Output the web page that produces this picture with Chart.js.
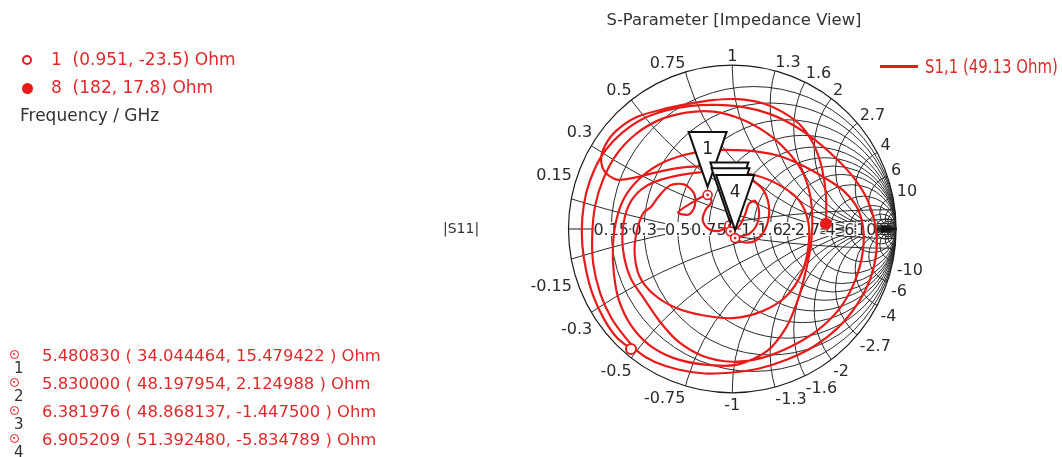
<!DOCTYPE html>
<html>
<head>
<meta charset="utf-8">
<title>S-Parameter [Impedance View]</title>
<script src="https://cdn.jsdelivr.net/npm/chart.js@4.4.1/dist/chart.umd.min.js"></script>
<style>
  html, body { margin: 0; padding: 0; background: #fff; }
  body { width: 1062px; height: 457px; position: relative; overflow: hidden;
         font-family: "DejaVu Sans", Verdana, sans-serif; }
  #wrap { position: absolute; left: 0; top: 0; width: 1062px; height: 457px; }
  .t { position: absolute; white-space: pre; font-size: 16px; line-height: 18px; }
  .red { color: #e0292b; }
  .dark { color: #333; }
  .ring { position: absolute; box-sizing: border-box; border-radius: 50%; }
</style>
</head>
<body>
<div id="wrap"><canvas id="smith"></canvas></div>
<div id="overlay"></div>
<script>
// ---- data ----
const z0 = 50;
const rTicks = [0.15, 0.3, 0.5, 0.75, 1, 1.3, 1.6, 2, 2.7, 4, 6, 10];
const xTicks = [0.15, 0.3, 0.5, 0.75, 1, 1.3, 1.6, 2, 2.7, 4, 6, 10];
const extraGrid = [15, 20, 30];

// S1,1 trace as reflection coefficient (real / imag), 1 GHz -> 8 GHz
const traceRe = [
  -0.618,-0.705,-0.783,-0.849,-0.892,-0.916,-0.916,-0.892,-0.843,-0.771,
  -0.675,-0.554,-0.410,-0.253,-0.102,0.060,0.223,0.373,0.512,0.633,
  0.741,0.825,0.873,0.880,0.843,0.765,0.651,0.500,0.331,0.163,
  0,-0.169,-0.331,-0.476,-0.572,
  -0.657,-0.741,-0.807,-0.849,-0.855,-0.837,-0.789,-0.711,-0.596,-0.452,
  -0.283,-0.114,0.060,0.211,0.331,0.422,0.470,0.488,0.482,0.452,
  0.404,0.331,0.211,0.030,-0.169,-0.361,-0.512,-0.620,
  -0.693,-0.723,-0.729,-0.711,-0.663,-0.572,-0.452,-0.301,-0.133,0.072,
  0.271,0.434,0.572,0.681,0.765,0.801,0.789,0.735,0.651,0.524,
  0.361,0.181,0,-0.181,-0.331,-0.440,
  -0.542,-0.620,-0.663,-0.669,-0.633,-0.554,-0.434,-0.229,-0.030,0.151,
  0.301,0.410,0.464,0.464,0.422,0.331,0.181,0,-0.181,-0.349,
  -0.482,-0.566,-0.596,-0.584,-0.542,
  -0.500,-0.452,-0.380,-0.295,-0.235,-0.229,-0.265,-0.331,-0.247,-0.151,
  -0.127,-0.163,-0.181,-0.145,-0.078,-0.018,-0.011,0.042,0.078,0.102,
  0.139,0.163,0.151,0.102,0.017,
  0.078,0.151,0.211,0.223,0.181,0.078,-0.078,-0.271,-0.452,-0.596,
  -0.705,-0.777,-0.801,-0.777,-0.711,-0.590,-0.434,-0.271,-0.120,0.030,
  0.181,0.313,0.422,0.500,0.548,0.572,0.572
];
const traceIm = [
  -0.747,-0.675,-0.560,-0.416,-0.259,-0.096,0.066,0.223,0.367,0.494,
  0.596,0.681,0.735,0.765,0.771,0.759,0.717,0.645,0.548,0.440,
  0.319,0.181,0.024,-0.139,-0.307,-0.464,-0.608,-0.729,-0.813,-0.867,
  -0.892,-0.898,-0.873,-0.825,-0.765,
  -0.669,-0.548,-0.398,-0.217,-0.036,0.145,0.307,0.458,0.584,0.675,
  0.723,0.729,0.681,0.596,0.488,0.367,0.235,0.084,-0.078,-0.247,
  -0.428,-0.608,-0.759,-0.843,-0.843,-0.801,-0.717,-0.596,
  -0.440,-0.277,-0.114,0.042,0.187,0.307,0.398,0.458,0.488,0.488,
  0.458,0.392,0.313,0.235,0.127,-0.018,-0.187,-0.355,-0.500,-0.627,
  -0.729,-0.801,-0.825,-0.789,-0.699,-0.578,
  -0.428,-0.307,-0.157,-0.006,0.145,0.247,0.307,0.349,0.355,0.331,
  0.265,0.175,0.042,-0.114,-0.277,-0.416,-0.512,-0.554,-0.536,-0.488,
  -0.404,-0.295,-0.157,-0.018,0.102,
  0.133,0.199,0.271,0.277,0.223,0.145,0.090,0.102,0.163,0.212,
  0.169,0.120,0.054,0,-0.012,0.022,-0.015,0.018,0.090,0.157,
  0.175,0.114,0.030,-0.030,-0.057,
  -0.084,-0.066,0.024,0.145,0.253,0.325,0.380,0.386,0.355,0.319,
  0.307,0.355,0.434,0.518,0.608,0.693,0.741,0.777,0.801,0.807,
  0.783,0.723,0.639,0.518,0.373,0.205,0.033
];

// start / end points (GHz, Ohm)
const endFreq = [1, 8];
const endR = [0.951, 182];
const endX = [-23.5, 17.8];

// markers 1..4 (GHz, Ohm)
const markerFreq = [5.480830, 5.830000, 6.381976, 6.905209];
const markerR = [34.044464, 48.197954, 48.868137, 51.392480];
const markerX = [15.479422, 2.124988, -1.447500, -5.834789];

const seriesName = 'S1,1 (49.13 Ohm)';

// ---- helpers ----
function toGamma(r, x) {
  const a = r / z0, b = x / z0;
  const nr = a - 1, ni = b, dr = a + 1, di = b;
  const d = dr * dr + di * di;
  return { x: (nr * dr + ni * di) / d, y: (ni * dr - nr * di) / d };
}

const CX = 735, CY = 229, RPX = 166, W = 1062, H = 457;
const RED = '#e81b1b';
const GRID = '#2b2b2b';

const tracePts = traceRe.map((v, i) => ({ x: v, y: traceIm[i] }));
const markerPts = markerR.map((r, i) => toGamma(r, markerX[i]));
const startPt = [toGamma(endR[0], endX[0])];
const endPt = [toGamma(endR[1], endX[1])];

function fmtTick(v) { return String(v); }

const smithGrid = {
  id: 'smithGrid',
  beforeDatasetsDraw(chart) {
    const { ctx, scales: { x, y } } = chart;
    const px = v => x.getPixelForValue(v);
    const py = v => y.getPixelForValue(v);
    const unit = px(1) - px(0);
    const cx = px(0), cy = py(0);

    ctx.save();
    ctx.beginPath();
    ctx.arc(cx, cy, unit, 0, Math.PI * 2);
    ctx.clip();
    ctx.strokeStyle = GRID;
    ctx.lineWidth = 1;
    rTicks.concat(extraGrid).forEach(r => {
      ctx.beginPath();
      ctx.arc(px(r / (1 + r)), cy, unit / (1 + r), 0, Math.PI * 2);
      ctx.stroke();
    });
    xTicks.concat(extraGrid).forEach(v => {
      [v, -v].forEach(s => {
        ctx.beginPath();
        ctx.arc(px(1), py(1 / s), unit / Math.abs(s), 0, Math.PI * 2);
        ctx.stroke();
      });
    });
    ctx.restore();

    // outer circle + real axis with arrow
    ctx.save();
    ctx.strokeStyle = '#1a1a1a';
    ctx.lineWidth = 1.2;
    ctx.beginPath();
    ctx.arc(cx, cy, unit, 0, Math.PI * 2);
    ctx.stroke();
    ctx.beginPath();
    ctx.moveTo(px(-1), cy);
    ctx.lineTo(px(1), cy);
    ctx.stroke();
    ctx.fillStyle = '#111';
    ctx.beginPath();
    ctx.moveTo(px(1) + 1, cy);
    ctx.lineTo(px(1) - 15, cy - 4);
    ctx.lineTo(px(1) - 15, cy + 4);
    ctx.closePath();
    ctx.fill();

    ctx.font = '16px "DejaVu Sans"';
    ctx.fillStyle = '#2a2a2a';

    // reactance labels around the rim
    const rl = unit + 4;
    xTicks.forEach(v => {
      [v, -v].forEach(s => {
        const th = Math.PI - 2 * Math.atan(Math.abs(s));
        const ang = s > 0 ? th : -th;
        const lx = cx + rl * Math.cos(ang);
        const ly = cy - rl * Math.sin(ang);
        const c = Math.cos(ang);
        ctx.textAlign = c > 0.08 ? 'left' : (c < -0.08 ? 'right' : 'center');
        ctx.textBaseline = 'alphabetic';
        const txt = (s < 0 ? '-' : '') + fmtTick(Math.abs(s));
        ctx.fillText(txt, lx, s > 0 ? ly : ly + 13);
      });
    });

    // resistance labels on the real axis, white boxed
    rTicks.forEach(r => {
      const g = (r - 1) / (r + 1);
      const lx = px(g);
      const txt = fmtTick(r);
      const w = ctx.measureText(txt).width;
      ctx.fillStyle = '#fff';
      ctx.fillRect(lx - w / 2, cy - 7, w, 14);
      ctx.fillStyle = '#2a2a2a';
      ctx.textAlign = 'center';
      ctx.textBaseline = 'alphabetic';
      ctx.fillText(txt, lx, cy + 6);
    });
    ctx.restore();
  },
  afterDatasetsDraw(chart) {
    const { ctx } = chart;
    const meta = chart.getDatasetMeta(0);
    ctx.save();
    ctx.font = '17px "DejaVu Sans"';
    ctx.textAlign = 'center';
    ctx.textBaseline = 'alphabetic';
    meta.data.forEach((pt, i) => {
      const tipX = pt.x, tipY = pt.y - 8;
      const top = tipY - 55;
      ctx.beginPath();
      ctx.moveTo(tipX, tipY);
      ctx.lineTo(tipX - 19, top);
      ctx.lineTo(tipX + 19, top);
      ctx.closePath();
      ctx.fillStyle = '#fff';
      ctx.fill();
      ctx.strokeStyle = '#111';
      ctx.lineWidth = 2;
      ctx.stroke();
      ctx.fillStyle = '#222';
      ctx.fillText(String(i + 1), tipX, top + 22);
    });
    ctx.restore();
  }
};

const canvas = document.getElementById('smith');
new Chart(canvas, {
  type: 'scatter',
  data: {
    datasets: [
      {
        label: 'markers',
        data: markerPts,
        pointRadius: 4.5,
        pointBorderWidth: 1.6,
        pointBackgroundColor: '#fff',
        pointBorderColor: RED,
        showLine: false,
        order: 2
      },
      {
        label: 'marker dots',
        data: markerPts,
        pointRadius: 1.4,
        pointBorderWidth: 0,
        pointBackgroundColor: RED,
        showLine: false,
        order: 1
      },
      {
        label: 'start',
        data: startPt,
        pointRadius: 5,
        pointBorderWidth: 2,
        pointBackgroundColor: '#fff',
        pointBorderColor: RED,
        showLine: false,
        order: 3
      },
      {
        label: 'end',
        data: endPt,
        pointRadius: 6,
        pointBorderWidth: 0,
        pointBackgroundColor: RED,
        showLine: false,
        order: 3
      },
      {
        label: seriesName,
        data: tracePts,
        showLine: true,
        borderColor: RED,
        borderWidth: 2.2,
        tension: 0.3,
        pointRadius: 0,
        fill: false,
        order: 5
      }
    ]
  },
  options: {
    responsive: true,
    maintainAspectRatio: false,
    animation: false,
    layout: { padding: 0 },
    plugins: {
      legend: { display: false },
      title: { display: false },
      tooltip: { enabled: false }
    },
    scales: {
      x: { type: 'linear', min: -CX / RPX, max: (W - CX) / RPX, display: false },
      y: { type: 'linear', min: -(H - CY) / RPX, max: CY / RPX, display: false }
    }
  },
  plugins: [smithGrid]
});

// ---- text around the chart ----
const ov = document.getElementById('overlay');
function addText(txt, left, top, cls, extra) {
  const d = document.createElement('div');
  d.className = 't ' + cls;
  d.textContent = txt;
  d.style.left = left + 'px';
  d.style.top = top + 'px';
  if (extra) Object.assign(d.style, extra);
  ov.appendChild(d);
  return d;
}
function addRing(cxp, cyp, r, border, fill) {
  const d = document.createElement('div');
  d.className = 'ring';
  Object.assign(d.style, {
    left: (cxp - r) + 'px', top: (cyp - r) + 'px', width: 2 * r + 'px', height: 2 * r + 'px',
    border: border, background: fill
  });
  ov.appendChild(d);
}

addText('S-Parameter [Impedance View]', 534, 11, 'dark', { width: '400px', textAlign: 'center', fontSize: '16.4px' });
addText('|S11|', 443, 219, 'dark', { fontSize: '14px' });

// series legend
const lg = document.createElement('div');
Object.assign(lg.style, { position: 'absolute', left: '880px', top: '65px', width: '38px', height: '3px', background: RED });
ov.appendChild(lg);
const lgText = addText(seriesName, 925, 55, 'red', { fontSize: '19px', lineHeight: '22px', fontFamily: '"DejaVu Sans Condensed", "Liberation Sans Narrow", sans-serif', transformOrigin: '0 50%' });
const lgW = lgText.getBoundingClientRect().width;
lgText.style.transform = 'scaleX(' + (133 / lgW).toFixed(3) + ')';

// start / end legend
addRing(27, 60, 5, '2.2px solid ' + RED, '#fff');
addText(endFreq[0] + '  (' + endR[0] + ', ' + endX[0] + ') Ohm', 51, 50, 'red', { fontSize: '17px' });
addRing(27, 88, 5.5, '0', RED);
addText(endFreq[1] + '  (' + endR[1] + ', ' + endX[1] + ') Ohm', 51, 78, 'red', { fontSize: '17px' });
addText('Frequency / GHz', 20, 106, 'dark', { fontSize: '17px' });

// marker table
markerFreq.forEach((f, i) => {
  const y = 356 + i * 28;
  addRing(14, y - 2, 4.5, '1.6px solid ' + RED, '#fff');
  addRing(14, y - 2, 1.4, '0', RED);
  addText(String(i + 1), 14, y + 3, 'dark', { fontSize: '15px' });
  addText(f.toFixed(6) + ' ( ' + markerR[i].toFixed(6) + ', ' + markerX[i].toFixed(6) + ' ) Ohm', 42, y - 9, 'red', { fontSize: '16.4px' });
});
</script>
</body>
</html>
